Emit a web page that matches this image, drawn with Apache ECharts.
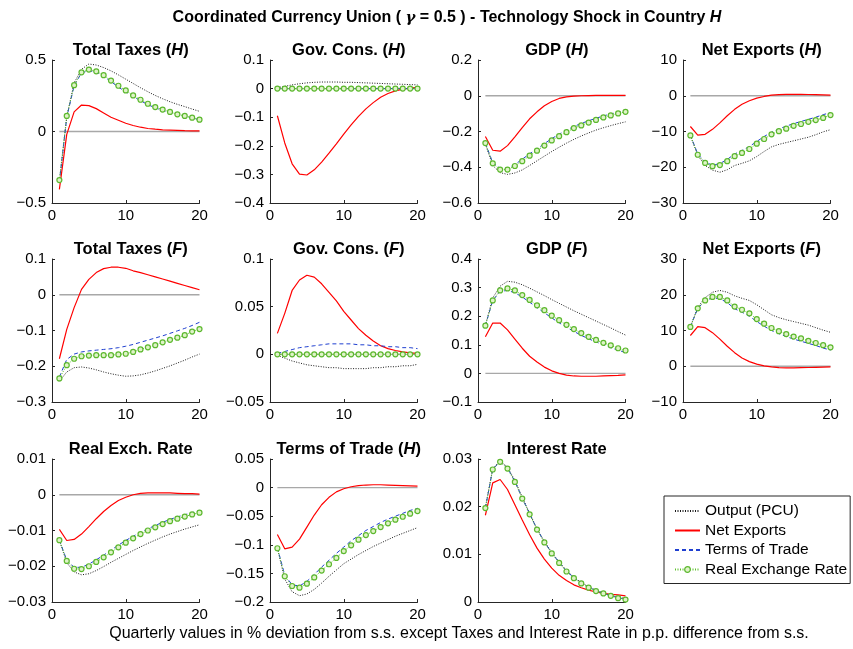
<!DOCTYPE html>
<html>
<head>
<meta charset="utf-8">
<script src="https://cdn.jsdelivr.net/npm/echarts@6/dist/echarts.min.js"></script>
<style>
  html, body { margin: 0; padding: 0; background: #ffffff; }
  #chart { width: 853px; height: 649px; }
</style>
</head>
<body>
<div id="chart"></div>
<script>
// Quarters after the shock
const quarters = [1, 2, 3, 4, 5, 6, 7, 8, 9, 10, 11, 12, 13, 14, 15, 16, 17, 18, 19, 20];
const zeroLine = [0, 0, 0, 0, 0, 0, 0, 0, 0, 0, 0, 0, 0, 0, 0, 0, 0, 0, 0, 0];

// Series names (legend)
const seriesNames = ['Output (PCU)', 'Net Exports', 'Terms of Trade', 'Real Exchange Rate'];

// Total Taxes (H)
const taxesH_pcu = [-0.36, 0.10, 0.34, 0.435, 0.472, 0.465, 0.447, 0.424, 0.396, 0.366, 0.336, 0.306, 0.278, 0.252, 0.229, 0.208, 0.190, 0.174, 0.157, 0.141];
const taxesH_nx  = [-0.405, -0.02, 0.137, 0.185, 0.181, 0.160, 0.130, 0.100, 0.079, 0.058, 0.042, 0.030, 0.021, 0.016, 0.012, 0.010, 0.008, 0.006, 0.005, 0.005];
const taxesH_tot = [-0.35, 0.10, 0.32, 0.41, 0.425, 0.415, 0.385, 0.35, 0.31, 0.278, 0.245, 0.215, 0.188, 0.165, 0.148, 0.132, 0.117, 0.105, 0.094, 0.082];
const taxesH_rer = [-0.34, 0.109, 0.324, 0.414, 0.433, 0.421, 0.394, 0.356, 0.320, 0.287, 0.252, 0.222, 0.194, 0.171, 0.153, 0.137, 0.120, 0.109, 0.097, 0.083];

// Gov. Cons. (H)
const govH_pcu = [0.003, 0.008, 0.013, 0.017, 0.020, 0.022, 0.023, 0.023, 0.023, 0.022, 0.022, 0.021, 0.020, 0.019, 0.018, 0.017, 0.016, 0.015, 0.014, 0.013];
const govH_nx  = [-0.095, -0.19, -0.263, -0.299, -0.302, -0.284, -0.257, -0.226, -0.193, -0.159, -0.127, -0.097, -0.071, -0.049, -0.030, -0.017, -0.008, -0.002, 0.002, 0.004];
const govH_tot = [0, 0, 0, 0, 0, 0, 0, 0, 0, 0, 0, 0, 0, 0, 0, 0, 0, 0, 0, 0];
const govH_rer = [0, 0, 0, 0, 0, 0, 0, 0, 0, 0, 0, 0, 0, 0, 0, 0, 0, 0, 0, 0];

// GDP (H)
const gdpH_pcu = [-0.27, -0.39, -0.43, -0.44, -0.432, -0.415, -0.39, -0.364, -0.338, -0.312, -0.288, -0.265, -0.244, -0.225, -0.208, -0.192, -0.179, -0.167, -0.156, -0.146];
const gdpH_nx  = [-0.228, -0.305, -0.31, -0.279, -0.23, -0.178, -0.129, -0.09, -0.056, -0.032, -0.015, -0.006, -0.002, 0.0, 0.001, 0.002, 0.002, 0.002, 0.002, 0.002];
const gdpH_tot = [-0.265, -0.375, -0.405, -0.405, -0.385, -0.355, -0.325, -0.297, -0.268, -0.24, -0.215, -0.192, -0.172, -0.155, -0.14, -0.126, -0.113, -0.102, -0.092, -0.082];
const gdpH_rer = [-0.265, -0.378, -0.413, -0.413, -0.393, -0.366, -0.335, -0.307, -0.279, -0.25, -0.226, -0.204, -0.181, -0.166, -0.15, -0.135, -0.121, -0.11, -0.099, -0.09];

// Net Exports (H)
const nxH_pcu = [-11.1, -16.7, -19.5, -20.8, -21.4, -20.7, -19.5, -18.9, -18.2, -17.0, -15.6, -14.3, -13.6, -13.1, -12.6, -12.1, -11.6, -10.9, -10.1, -9.5];
const nxH_nx  = [-8.6, -11.0, -10.8, -9.4, -7.6, -5.6, -3.8, -2.4, -1.4, -0.65, -0.2, 0.15, 0.3, 0.4, 0.4, 0.4, 0.35, 0.3, 0.25, 0.2];
const nxH_tot = [-11.0, -16.3, -18.6, -19.4, -19.0, -17.8, -16.3, -15.3, -14.2, -12.8, -11.4, -10.2, -9.3, -8.5, -7.8, -7.2, -6.6, -6.0, -5.3, -4.7];
const nxH_rer = [-11.1, -16.5, -18.8, -19.7, -19.4, -18.3, -16.9, -16.0, -14.9, -13.4, -12.1, -10.8, -9.9, -9.2, -8.4, -7.9, -7.3, -6.8, -6.2, -5.4];

// Total Taxes (F)
const taxesF_pcu = [-0.242, -0.216, -0.204, -0.202, -0.205, -0.21, -0.216, -0.221, -0.225, -0.228, -0.227, -0.224, -0.219, -0.213, -0.206, -0.199, -0.191, -0.183, -0.174, -0.166];
const taxesF_nx  = [-0.179, -0.097, -0.036, 0.015, 0.043, 0.062, 0.073, 0.077, 0.077, 0.074, 0.067, 0.062, 0.056, 0.050, 0.044, 0.038, 0.032, 0.026, 0.020, 0.014];
const taxesF_tot = [-0.23, -0.181, -0.166, -0.16, -0.157, -0.155, -0.153, -0.151, -0.148, -0.144, -0.139, -0.133, -0.127, -0.121, -0.115, -0.108, -0.101, -0.094, -0.086, -0.077];
const taxesF_rer = [-0.234, -0.197, -0.179, -0.172, -0.17, -0.169, -0.169, -0.169, -0.167, -0.165, -0.160, -0.153, -0.147, -0.141, -0.133, -0.126, -0.120, -0.113, -0.103, -0.096];

// Gov. Cons. (F)
const govF_pcu = [-0.001, -0.004, -0.007, -0.009, -0.011, -0.012, -0.013, -0.014, -0.014, -0.015, -0.015, -0.015, -0.015, -0.014, -0.014, -0.013, -0.013, -0.012, -0.012, -0.0105];
const govF_nx  = [0.022, 0.043, 0.067, 0.078, 0.083, 0.081, 0.074, 0.065, 0.056, 0.045, 0.036, 0.027, 0.020, 0.014, 0.009, 0.006, 0.004, 0.0025, 0.0015, 0.001];
const govF_tot = [0.001, 0.003, 0.005, 0.007, 0.008, 0.009, 0.010, 0.011, 0.011, 0.011, 0.011, 0.010, 0.010, 0.009, 0.009, 0.008, 0.008, 0.007, 0.007, 0.006];
const govF_rer = [0, 0, 0, 0, 0, 0, 0, 0, 0, 0, 0, 0, 0, 0, 0, 0, 0, 0, 0, 0];

// GDP (F)
const gdpF_pcu = [0.168, 0.264, 0.305, 0.322, 0.319, 0.31, 0.298, 0.285, 0.272, 0.258, 0.245, 0.232, 0.219, 0.207, 0.195, 0.183, 0.171, 0.159, 0.146, 0.134];
const gdpF_nx  = [0.128, 0.176, 0.176, 0.152, 0.12, 0.088, 0.06, 0.04, 0.022, 0.009, 0.0, -0.006, -0.009, -0.01, -0.01, -0.01, -0.009, -0.008, -0.007, -0.005];
const gdpF_tot = [0.167, 0.255, 0.287, 0.29, 0.282, 0.267, 0.249, 0.23, 0.212, 0.194, 0.177, 0.161, 0.147, 0.133, 0.121, 0.11, 0.1, 0.09, 0.081, 0.073];
const gdpF_rer = [0.167, 0.255, 0.29, 0.297, 0.29, 0.274, 0.257, 0.238, 0.221, 0.202, 0.186, 0.17, 0.155, 0.141, 0.128, 0.117, 0.107, 0.098, 0.088, 0.08];

// Net Exports (F)
const nxF_pcu = [11.0, 16.5, 19.2, 20.7, 21.2, 20.7, 19.7, 19.0, 18.4, 17.2, 15.8, 14.4, 13.6, 13.0, 12.5, 12.0, 11.5, 10.8, 10.1, 9.5];
const nxF_nx  = [8.6, 11.1, 10.8, 9.4, 7.6, 5.6, 3.8, 2.3, 1.3, 0.6, 0.1, -0.2, -0.4, -0.45, -0.45, -0.4, -0.35, -0.3, -0.25, -0.2];
const nxF_tot = [11.0, 16.2, 18.3, 19.1, 18.9, 17.8, 16.1, 15.1, 14.0, 12.5, 11.2, 10.0, 9.1, 8.3, 7.6, 7.0, 6.4, 5.8, 5.1, 4.5];
const nxF_rer = [11.0, 16.2, 18.4, 19.4, 19.4, 18.4, 16.7, 15.8, 14.8, 13.2, 11.9, 10.7, 9.8, 9.0, 8.3, 7.8, 7.1, 6.5, 5.9, 5.3];

// Real Exch. Rate
const rer_pcu = [-0.0127, -0.019, -0.0216, -0.0224, -0.0221, -0.0212, -0.0201, -0.0189, -0.0178, -0.0167, -0.0156, -0.0146, -0.0136, -0.0127, -0.0118, -0.0110, -0.0103, -0.0096, -0.0090, -0.0084];
const rer_nx  = [-0.0097, -0.0128, -0.0125, -0.011, -0.0089, -0.0067, -0.0047, -0.003, -0.0016, -0.0007, 0.0, 0.0004, 0.0005, 0.0005, 0.0005, 0.0005, 0.0004, 0.0003, 0.0003, 0.0002];
const rer_tot = [-0.0127, -0.0183, -0.0203, -0.0203, -0.0194, -0.0182, -0.0169, -0.0155, -0.0141, -0.0128, -0.0116, -0.0105, -0.0095, -0.0086, -0.0077, -0.0069, -0.0062, -0.0056, -0.005, -0.0045];
const rer_rer = [-0.0127, -0.0185, -0.0207, -0.0208, -0.02, -0.0188, -0.0175, -0.0161, -0.0147, -0.0134, -0.0122, -0.011, -0.01, -0.0091, -0.0082, -0.0074, -0.0067, -0.0061, -0.0055, -0.005];

// Terms of Trade (H)
const totH_pcu = [-0.106, -0.16, -0.182, -0.189, -0.186, -0.178, -0.167, -0.155, -0.144, -0.133, -0.125, -0.117, -0.110, -0.103, -0.097, -0.091, -0.085, -0.080, -0.075, -0.070];
const totH_nx  = [-0.082, -0.107, -0.104, -0.09, -0.069, -0.048, -0.030, -0.017, -0.0075, -0.002, 0.0015, 0.0035, 0.0045, 0.005, 0.005, 0.0045, 0.004, 0.0035, 0.003, 0.0025];
const totH_tot = [-0.105, -0.153, -0.17, -0.172, -0.164, -0.152, -0.139, -0.127, -0.115, -0.104, -0.093, -0.084, -0.075, -0.068, -0.061, -0.055, -0.05, -0.045, -0.04, -0.036];
const totH_rer = [-0.106, -0.155, -0.172, -0.175, -0.168, -0.157, -0.145, -0.134, -0.123, -0.111, -0.101, -0.091, -0.083, -0.076, -0.069, -0.0625, -0.056, -0.051, -0.0455, -0.041];

// Interest Rate
const rate_pcu = [0.0198, 0.028, 0.0296, 0.0283, 0.0255, 0.022, 0.0186, 0.0154, 0.0127, 0.0104, 0.0084, 0.0066, 0.0052, 0.0041, 0.0032, 0.0025, 0.0019, 0.0014, 0.001, 0.0007];
const rate_nx  = [0.0182, 0.025, 0.0257, 0.0236, 0.0204, 0.0172, 0.0141, 0.0113, 0.009, 0.0071, 0.0056, 0.0045, 0.0036, 0.003, 0.0025, 0.0021, 0.0018, 0.0016, 0.0015, 0.0013];
const rate_tot = [0.0197, 0.0279, 0.0294, 0.0281, 0.0253, 0.0218, 0.0185, 0.0153, 0.0126, 0.0103, 0.0083, 0.0065, 0.0051, 0.004, 0.0031, 0.0024, 0.0018, 0.0013, 0.0009, 0.0006];
const rate_rer = [0.0197, 0.0278, 0.0294, 0.028, 0.0252, 0.0217, 0.0184, 0.0152, 0.0125, 0.0102, 0.0082, 0.0064, 0.005, 0.0039, 0.003, 0.0023, 0.0018, 0.0013, 0.0008, 0.0005];

// Panel definitions: title (rich text), axis range and the four responses
const panels = [
  { title: '{b|Total Taxes (}{i|H}{b|)}', row: 0, col: 0, min: -0.5, max: 0.5, step: 0.5, zero: true, data: [taxesH_pcu, taxesH_nx, taxesH_tot, taxesH_rer] },
  { title: '{b|Gov. Cons. (}{i|H}{b|)}',  row: 0, col: 1, min: -0.4, max: 0.1, step: 0.1, zero: true, data: [govH_pcu, govH_nx, govH_tot, govH_rer] },
  { title: '{b|GDP (}{i|H}{b|)}',         row: 0, col: 2, min: -0.6, max: 0.2, step: 0.2, zero: true, data: [gdpH_pcu, gdpH_nx, gdpH_tot, gdpH_rer] },
  { title: '{b|Net Exports (}{i|H}{b|)}', row: 0, col: 3, min: -30, max: 10, step: 10, zero: true, data: [nxH_pcu, nxH_nx, nxH_tot, nxH_rer] },
  { title: '{b|Total Taxes (}{i|F}{b|)}', row: 1, col: 0, min: -0.3, max: 0.1, step: 0.1, zero: true, data: [taxesF_pcu, taxesF_nx, taxesF_tot, taxesF_rer] },
  { title: '{b|Gov. Cons. (}{i|F}{b|)}',  row: 1, col: 1, min: -0.05, max: 0.1, step: 0.05, zero: true, data: [govF_pcu, govF_nx, govF_tot, govF_rer] },
  { title: '{b|GDP (}{i|F}{b|)}',         row: 1, col: 2, min: -0.1, max: 0.4, step: 0.1, zero: true, data: [gdpF_pcu, gdpF_nx, gdpF_tot, gdpF_rer] },
  { title: '{b|Net Exports (}{i|F}{b|)}', row: 1, col: 3, min: -10, max: 30, step: 10, zero: true, data: [nxF_pcu, nxF_nx, nxF_tot, nxF_rer] },
  { title: '{b|Real Exch. Rate}',         row: 2, col: 0, min: -0.03, max: 0.01, step: 0.01, zero: true, data: [rer_pcu, rer_nx, rer_tot, rer_rer] },
  { title: '{b|Terms of Trade (}{i|H}{b|)}', row: 2, col: 1, min: -0.2, max: 0.05, step: 0.05, zero: true, data: [totH_pcu, totH_nx, totH_tot, totH_rer] },
  { title: '{b|Interest Rate}',           row: 2, col: 2, min: 0, max: 0.03, step: 0.01, zero: false, data: [rate_pcu, rate_nx, rate_tot, rate_rer] }
];

// Layout of the 3 x 4 grid of axes
const colLeft = [52, 270, 478, 683];
const rowTop = [60, 259, 459];
const plotW = 147.5;
const plotH = 143;

const FONT = '"Liberation Sans", Arial, Helvetica, sans-serif';
const axisColor = '#262626';

const lineStyles = [
  { color: '#1a1a1a', width: 1, type: [1, 1.5] },          // Output (PCU): black dotted
  { color: '#ff0000', width: 1.2, type: 'solid' },         // Net Exports: red solid
  { color: '#1f3fd0', width: 1, type: [4, 3] },            // Terms of Trade: blue dashed
  { color: '#5cc02a', width: 1, type: [1, 1.5] }           // Real Exchange Rate: green dotted with circles
];

function fmt(v) {
  const s = String(+v.toFixed(6));
  return s.replace('-', '\u2212');
}

const grids = [], xAxes = [], yAxes = [], series = [];
const titles = [];

titles.push({
  text: '{b|Coordinated Currency Union ( }{g|\u03b3}{b| = 0.5 ) - Technology Shock in Country }{i|H}',
  left: 447, top: 10, textAlign: 'center', padding: 0,
  textStyle: {
    rich: {
      b: { fontFamily: FONT, fontWeight: 'bold', fontSize: 16, color: '#000' },
      i: { fontFamily: FONT, fontWeight: 'bold', fontStyle: 'italic', fontSize: 16, color: '#000' },
      g: { fontFamily: '"DejaVu Serif", serif', fontStyle: 'italic', fontSize: 15, color: '#000' }
    }
  }
});

titles.push({
  text: 'Quarterly values in % deviation from s.s. except Taxes and Interest Rate in p.p. difference from s.s.',
  left: 459, top: 626, textAlign: 'center', padding: 0,
  textStyle: { fontFamily: FONT, fontWeight: 'normal', fontSize: 16, color: '#000' }
});

panels.forEach((p, i) => {
  const left = colLeft[p.col];
  const top = rowTop[p.row];
  grids.push({ left: left, top: top, width: plotW, height: plotH, containLabel: false });
  titles.push({
    text: p.title,
    left: left + plotW / 2 + 5, top: top - 18, textAlign: 'center', padding: 0,
    textStyle: {
      rich: {
        b: { fontFamily: FONT, fontWeight: 'bold', fontSize: 16.5, color: '#000' },
        i: { fontFamily: FONT, fontWeight: 'bold', fontStyle: 'italic', fontSize: 16.5, color: '#000' }
      }
    }
  });
  xAxes.push({
    type: 'value', gridIndex: i, min: 0, max: 20, interval: 10,
    axisLine: { show: true, onZero: false, lineStyle: { color: axisColor, width: 1 } },
    axisTick: { show: true, inside: true, length: 3, lineStyle: { color: axisColor } },
    axisLabel: { show: true, margin: 5, fontFamily: FONT, fontSize: 15, color: '#000', formatter: fmt },
    splitLine: { show: false }
  });
  yAxes.push({
    type: 'value', gridIndex: i, min: p.min, max: p.max, interval: p.step,
    axisLine: { show: true, onZero: false, lineStyle: { color: axisColor, width: 1 } },
    axisTick: { show: true, inside: true, length: 3, lineStyle: { color: axisColor } },
    axisLabel: { show: true, margin: 6, fontFamily: FONT, fontSize: 15, color: '#000', formatter: fmt },
    splitLine: { show: false }
  });
  if (p.zero) {
    series.push({
      name: 'zero', type: 'line', xAxisIndex: i, yAxisIndex: i, silent: true,
      data: quarters.map((q, k) => [q, zeroLine[k]]),
      symbol: 'none', lineStyle: { color: '#a8a8a8', width: 1.3 }, z: 1
    });
  }
  p.data.forEach((vals, s) => {
    const isRer = s === 3;
    series.push({
      name: seriesNames[s], type: 'line', xAxisIndex: i, yAxisIndex: i,
      data: quarters.map((q, k) => [q, vals[k]]),
      symbol: isRer ? 'circle' : 'none',
      showSymbol: isRer,
      symbolSize: 5,
      itemStyle: isRer ? { color: '#dff3c8', borderColor: '#5cb82e', borderWidth: 1.2 } : { color: lineStyles[s].color },
      lineStyle: lineStyles[s],
      z: 2 + s
    });
  });
});

// Legend entries: plain line samples, a circle marker only for the green series
const hidden = { color: 'rgba(0,0,0,0)', borderColor: 'rgba(0,0,0,0)', borderWidth: 0 };
const legendData = seriesNames.map((name, s) => (
  s === 3
    ? { name: name, itemStyle: { color: '#dff3c8', borderColor: '#5cb82e', borderWidth: 1.2 } }
    : { name: name, itemStyle: hidden }
));

const chart = echarts.init(document.getElementById('chart'), null, { renderer: 'canvas' });
chart.setOption({
  animation: false,
  backgroundColor: '#ffffff',
  title: titles,
  grid: grids,
  xAxis: xAxes,
  yAxis: yAxes,
  legend: {
    data: legendData,
    orient: 'vertical',
    left: 664, top: 496,
    padding: [7, 3, 6, 10],
    itemWidth: 25, itemHeight: 7, itemGap: 3.5,
    borderColor: '#262626', borderWidth: 1, borderRadius: 0,
    backgroundColor: '#ffffff',
    selectedMode: false,
    textStyle: { fontFamily: FONT, fontSize: 15.5, color: '#000', padding: [0, 0, 0, 0], lineHeight: 15.5 }
  },
  series: series
});
</script>
</body>
</html>
